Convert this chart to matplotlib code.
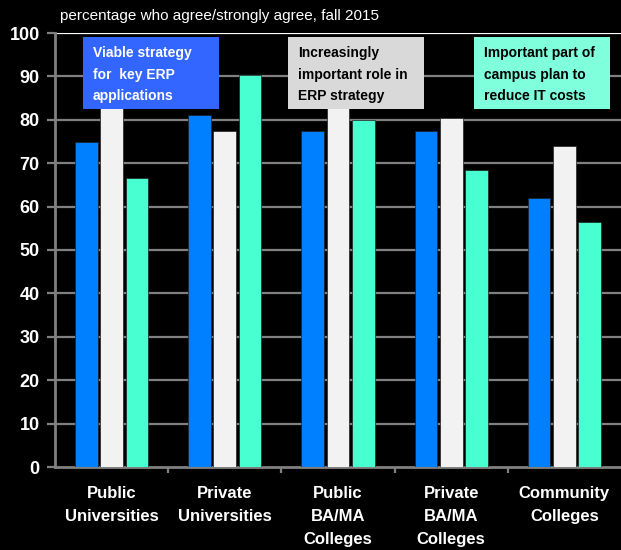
import matplotlib as mpl
import matplotlib.pyplot as plt
import numpy as np
from matplotlib.patches import Rectangle

mpl.rcParams['font.family'] = ['Liberation Sans', 'DejaVu Sans']

categorias = ['Public\nUniversities', 'Private\nUniversities', 'Public\nBA/MA\nColleges',
              'Private\nBA/MA\nColleges', 'Community\nColleges']
viable = [75, 81, 77.5, 77.5, 62]
creciente = [85, 77.5, 84, 80.5, 74]
reducir = [66.5, 90.3, 80, 68.5, 56.5]
series = [viable, creciente, reducir]
etiquetas = ['Viable strategy\nfor  key ERP\napplications',
             'Increasingly\nimportant role in\nERP strategy',
             'Important part of\ncampus plan to\nreduce IT costs']
yticks = list(range(0, 101, 10))

col_barras = ['#0080FF', '#F2F2F2', '#47FFD0']
col_cajas = ['#3366FF', '#D9D9D9', '#80FFDC']
col_textos = ['white', 'black', 'black']

fig = plt.figure(figsize=(6.21, 5.5), dpi=100, facecolor='black')
ax = fig.add_axes([55/621, 1 - 467/550, 566/621, 434/550], facecolor='black')

x = np.arange(len(categorias))
ancho = 0.2
desp = 0.224
for i, (vals, c) in enumerate(zip(series, col_barras)):
    ax.bar(x + (i - 1)*desp, vals, ancho, color=c, edgecolor='#202020', linewidth=0.5, zorder=3)

ax.set_xlim(-0.5, 4.5)
ax.set_ylim(0, 100)
ax.set_yticks(yticks)
ax.set_yticklabels([str(v) for v in yticks], fontsize=13, fontweight='bold', color='white')
for v in yticks[1:-1]:
    ax.axhline(v, color='#808080', linewidth=1.6, zorder=1)
ax.axhline(100, color='white', linewidth=1.6, zorder=1)

ax.set_xticks(x)
ax.set_xticklabels(categorias, fontsize=12, fontweight='bold', color='white', linespacing=1.65)
ax.tick_params(axis='x', length=0, pad=14)
ax.set_xticks(np.arange(0.5, 4.5, 1), minor=True)
ax.tick_params(axis='x', which='minor', length=4, width=1.6, color='#808080')
ax.tick_params(axis='y', length=6, width=1.6, color='#808080', pad=5)

for s in ['top', 'right']:
    ax.spines[s].set_visible(False)
for s in ['left', 'bottom']:
    ax.spines[s].set_color('#808080')
    ax.spines[s].set_linewidth(2)

# cajas de leyenda
cajas_x = [83, 288, 474]
for cx, txt, cc, ct in zip(cajas_x, etiquetas, col_cajas, col_textos):
    fig.patches.append(Rectangle((cx/621, 1 - 109/550), 136/621, 72/550,
                                 transform=fig.transFigure, facecolor=cc, edgecolor='none', zorder=5))
    fig.text((cx + 10)/621, 1 - 46/550, txt, fontsize=10, fontweight='bold', color=ct,
             ha='left', va='top', linespacing=1.7, zorder=6)

fig.text(60/621, 1 - 16/550, 'percentage who agree/strongly agree, fall 2015', fontsize=11,
         color='white', ha='left', va='center')

plt.savefig('out.png', dpi=100, facecolor='black')
